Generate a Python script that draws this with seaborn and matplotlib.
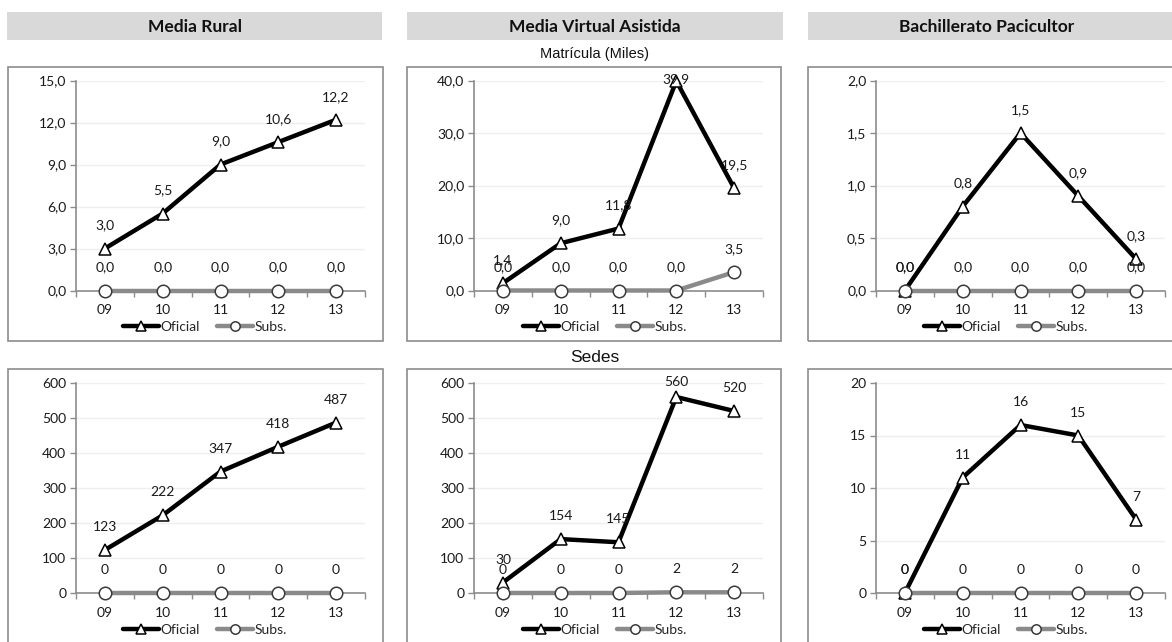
import numpy as np
import pandas as pd
import matplotlib.pyplot as plt
import seaborn as sns
from matplotlib.patches import Rectangle
from matplotlib.ticker import FuncFormatter, FixedLocator

# ---------------------------------------------------------------------------
# Data
# ---------------------------------------------------------------------------
years = ["09", "10", "11", "12", "13"]
columns = ["Media Rural", "Media Virtual Asistida", "Bachillerato Pacicultor"]

# Matricula (miles)
mat_rural_oficial = [3.0, 5.5, 9.0, 10.6, 12.2]
mat_rural_subs = [0.0, 0.0, 0.0, 0.0, 0.0]
mat_mva_oficial = [1.4, 9.0, 11.8, 39.9, 19.5]
mat_mva_subs = [0.0, 0.0, 0.0, 0.0, 3.5]
mat_bach_oficial = [0.0, 0.8, 1.5, 0.9, 0.3]
mat_bach_subs = [0.0, 0.0, 0.0, 0.0, 0.0]

# Sedes
sed_rural_oficial = [123, 222, 347, 418, 487]
sed_rural_subs = [0, 0, 0, 0, 0]
sed_mva_oficial = [30, 154, 145, 560, 520]
sed_mva_subs = [0, 0, 0, 2, 2]
sed_bach_oficial = [0, 11, 16, 15, 7]
sed_bach_subs = [0, 0, 0, 0, 0]

mat_yticks = [[0, 3, 6, 9, 12, 15], [0, 10, 20, 30, 40], [0, 0.5, 1.0, 1.5, 2.0]]
sed_yticks = [[0, 100, 200, 300, 400, 500, 600]] * 2 + [[0, 5, 10, 15, 20]]

series = [
    [(mat_rural_oficial, mat_rural_subs), (mat_mva_oficial, mat_mva_subs), (mat_bach_oficial, mat_bach_subs)],
    [(sed_rural_oficial, sed_rural_subs), (sed_mva_oficial, sed_mva_subs), (sed_bach_oficial, sed_bach_subs)],
]
yticks = [mat_yticks, sed_yticks]

# ---------------------------------------------------------------------------
# Layout (pixels)
# ---------------------------------------------------------------------------
W, H = 1172, 642
sns.set_theme(style="white")
plt.rcParams["font.family"] = ["Lato", "DejaVu Sans"]

fig = plt.figure(figsize=(W / 100, H / 100), dpi=100)
fig.patch.set_facecolor("white")


def fx(px):
    return px / W


def fy(py):
    return 1 - py / H


def add_rect(x0, y0, x1, y1, **kw):
    fig.patches.append(Rectangle((fx(x0), fy(y1)), fx(x1 - x0), (y1 - y0) / H,
                                 transform=fig.transFigure, **kw))


header_x = [(7, 382), (407, 783), (808, 1180)]
frame_x = [(8, 383), (407, 781), (808, 1180)]
axes_left = [76, 474, 876]
axes_width = 289
row_top = [80.5, 383]
row_h = 210
frame_y = [(67, 341), (369, 660)]
legend_y = [327, 630]
legend_cx = [205, 605, 1006]
TXT = "#1a1a1a"

for (x0, x1), name in zip(header_x, columns):
    cx = (x0 + x1) / 2 if x1 < W else (x0 + 1166) / 2
    add_rect(x0, 12, x1, 40, facecolor="#d9d9d9", edgecolor="none")
    fig.text(fx(cx), fy(26.5), name, ha="center", va="center",
             fontsize=12.5, fontweight="bold", color="#111111")

fig.text(fx(595), fy(54), "Matrícula (Miles)", ha="center", va="center",
         fontsize=10.5, family="Liberation Sans", color="#111111")
fig.text(fx(595), fy(357), "Sedes", ha="center", va="center",
         fontsize=12.5, family="Liberation Sans", color="#111111")

for r in range(2):
    for c in range(3):
        fx0, fx1 = frame_x[c]
        fy0, fy1 = frame_y[r]
        add_rect(fx0, fy0, fx1, fy1, facecolor="none", edgecolor="#8c8c8c", lw=1.2)


def fmt_val(v, decimals):
    if decimals:
        return f"{v:.1f}".replace(".", ",")
    return f"{int(round(v))}"


for r in range(2):
    decimals = r == 0
    for c in range(3):
        oficial, subs = series[r][c]
        ticks = yticks[r][c]
        ax = fig.add_axes([fx(axes_left[c]), fy(row_top[r] + row_h),
                           fx(axes_width), row_h / H])
        ax.set_facecolor("none")
        x = np.arange(len(years))
        df = pd.DataFrame({"x": x, "Oficial": oficial, "Subs.": subs})

        sns.lineplot(data=df, x="x", y="Oficial", ax=ax, color="black", lw=3.2,
                     marker="^", markersize=9, markerfacecolor="white",
                     markeredgecolor="black", markeredgewidth=1.1,
                     label="Oficial", zorder=3, clip_on=False)
        sns.lineplot(data=df, x="x", y="Subs.", ax=ax, color="#8a8a8a", lw=3.2,
                     marker="o", markersize=9, markerfacecolor="white",
                     markeredgecolor="#3a3a3a", markeredgewidth=1.1,
                     label="Subs.", zorder=4, clip_on=False)

        # labels sit above the point, but are kept inside the plot area (as Excel does)
        for vals in (oficial, subs):
            for xi, v in zip(x, vals):
                dist_px = (ticks[-1] - v) / (ticks[-1] - ticks[0]) * row_h
                off = min(16.5, (dist_px + 1) * 0.72)
                ax.annotate(fmt_val(v, decimals), (xi, v), xytext=(0, off),
                            textcoords="offset points", ha="center", va="center",
                            fontsize=10, color=TXT, zorder=5, annotation_clip=False)

        ax.set_xlim(-0.5, len(years) - 0.5)
        ax.set_ylim(ticks[0], ticks[-1])
        ax.set_yticks(ticks)
        ax.yaxis.set_major_formatter(FuncFormatter(
            lambda v, p, d=decimals: fmt_val(v, d)))
        ax.set_xticks(x)
        ax.set_xticklabels(years)
        ax.xaxis.set_minor_locator(FixedLocator(np.arange(-0.5, len(years), 1.0)))
        ax.tick_params(axis="x", which="major", length=0, pad=10, labelsize=10,
                       labelcolor=TXT)
        ax.tick_params(axis="x", which="minor", length=4, width=1, color="#8c8c8c",
                       direction="out", bottom=True)
        ax.tick_params(axis="y", which="major", length=4, width=1, color="#8c8c8c",
                       direction="out", left=True, pad=3, labelsize=10,
                       labelcolor=TXT)
        ax.set_xlabel("")
        ax.set_ylabel("")
        ax.grid(axis="y", color="#efefef", lw=1)
        ax.set_axisbelow(True)
        for side in ["top", "right"]:
            ax.spines[side].set_visible(False)
        for side in ["left", "bottom"]:
            ax.spines[side].set_color("#8c8c8c")
            ax.spines[side].set_linewidth(1.2)

        handles, labels = ax.get_legend_handles_labels()
        ax.legend(handles, labels, loc="center", ncol=2, frameon=False,
                  bbox_to_anchor=(fx(legend_cx[c]), fy(legend_y[r])),
                  bbox_transform=fig.transFigure, fontsize=10, handlelength=2.6,
                  handletextpad=0.1, columnspacing=1.2, markerscale=0.75)

fig.savefig("out.png", dpi=100)
